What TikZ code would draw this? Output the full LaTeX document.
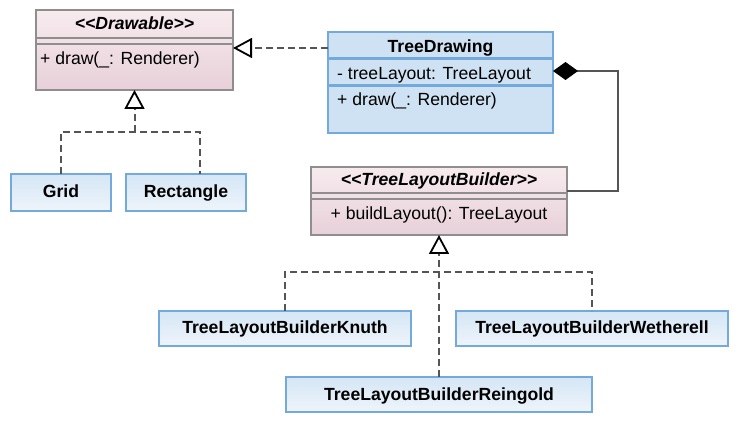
\documentclass[tikz,border=0pt]{standalone}
\usepackage{fontspec}
\setmainfont{Liberation Sans}
\usetikzlibrary{arrows.meta}

\definecolor{pinkTop}{HTML}{F7EBEE}
\definecolor{pinkBot}{HTML}{E8D0D9}
\definecolor{pinkLine}{HTML}{8E8E8E}
\definecolor{blueFill}{HTML}{CFE2F3}
\definecolor{blueLine}{HTML}{74A9DB}
\definecolor{lightTop}{HTML}{D5E6F5}
\definecolor{lightBot}{HTML}{EEF4FB}
\definecolor{connGray}{HTML}{555555}

\newcommand\umlfont{\fontsize{17.6}{20}\selectfont}

\tikzset{
  every node/.style={font=\umlfont},
  iface/.style={draw=pinkLine, line width=1.3pt, top color=pinkTop, bottom color=pinkBot,
                inner sep=0pt, outer sep=0pt},
  cls/.style={draw=blueLine, line width=2.5pt, fill=blueFill, inner sep=0pt, outer sep=0pt},
  leaf/.style={draw=blueLine, line width=2.5pt, top color=lightTop, bottom color=lightBot,
               inner sep=0pt, outer sep=0pt, font=\umlfont\bfseries,
               text height=13pt, text depth=2pt},
  lbl/.style={inner sep=0pt, anchor=base},
  mbr/.style={inner sep=0pt, anchor=base west},
  pinksep/.style={draw=pinkLine, line width=1.3pt},
  bluesep/.style={draw=blueLine, line width=2.5pt},
  realize/.style={draw=connGray, line width=2pt, dash pattern=on 7pt off 4pt},
  gentri/.style={-{Triangle[length=19pt, width=20pt, fill=white, color=black, line width=1.8pt]}},
  compo/.style={draw=connGray, line width=2pt,
                {Diamond[length=25pt, width=18pt, color=black]}-},
}

\begin{document}
\begin{tikzpicture}[x=1pt, y=-1pt]
  \fill[white] (0,0) rectangle (741,427);
  \useasboundingbox (0,0) rectangle (741,427);

  % interface Drawable
  \node[iface, minimum width=197pt, minimum height=80pt] (drawable) at (134.5,50) {};
  \draw[pinksep] (drawable.west |- 0,38) -- (drawable.east |- 0,38);
  \draw[pinksep] (drawable.west |- 0,44) -- (drawable.east |- 0,44);
  \node[lbl, font=\umlfont\bfseries\itshape] (drawableName) at (134.5,29.5) {<{}<Drawable>{}>};
  \node[mbr] (drawableOp) at (40,65) {+ draw(\_: Renderer)};

  % class TreeDrawing
  \node[cls, minimum width=225pt, minimum height=101pt] (tdraw) at (440.5,82.5) {};
  \draw[bluesep] (tdraw.west |- 0,58.3) -- (tdraw.east |- 0,58.3);
  \draw[bluesep] (tdraw.west |- 0,85.5) -- (tdraw.east |- 0,85.5);
  \node[lbl, font=\umlfont\bfseries] (tdName) at (440.5,53) {TreeDrawing};
  \node[mbr] (tdAttr) at (337,80) {- treeLayout: TreeLayout};
  \node[mbr] (tdOp) at (337,106) {+ draw(\_: Renderer)};

  % interface TreeLayoutBuilder
  \node[iface, minimum width=256pt, minimum height=68pt] (tlb) at (439,201) {};
  \draw[pinksep] (tlb.west |- 0,193) -- (tlb.east |- 0,193);
  \draw[pinksep] (tlb.west |- 0,199) -- (tlb.east |- 0,199);
  \node[lbl, font=\umlfont\bfseries\itshape] (tlbName) at (439,186) {<{}<TreeLayoutBuilder>{}>};
  \node[lbl] (tlbOp) at (439,220) {+ buildLayout(): TreeLayout};

  % concrete classes
  \node[leaf, minimum width=100pt, minimum height=37pt] (grid) at (61,192.5) {Grid};
  \node[leaf, minimum width=120pt, minimum height=37pt] (rect) at (186,192.5) {Rectangle};
  \node[leaf, minimum width=252pt, minimum height=35pt] (knuth) at (285,328.5) {TreeLayoutBuilderKnuth};
  \node[leaf, minimum width=272pt, minimum height=35pt] (weth) at (592,328.5) {TreeLayoutBuilderWetherell};
  \node[leaf, minimum width=306pt, minimum height=35pt] (rein) at (439,394.5) {TreeLayoutBuilderReingold};

  % realizations of Drawable
  \coordinate (jA) at (134.5,132);
  \coordinate (jB) at (200,132);
  \draw[realize] (grid.north) |- (jB) -- (rect.north -| jB);
  \draw[realize, gentri] (jA) -- (drawable.south);
  \draw[realize, gentri] (tdraw.west |- 0,48) -- (drawable.east |- 0,48);

  % realizations of TreeLayoutBuilder
  \coordinate (jC) at (439,272);
  \draw[realize] (knuth.north) |- (jC) -| (weth.north);
  \draw[realize, gentri] (rein.north) -- (tlb.south);

  % composition
  \coordinate (cc) at (618,71);
  \draw[compo] (tdraw.east |- cc) -- (cc) |- (tlb.east |- 0,191);
\end{tikzpicture}
\end{document}
